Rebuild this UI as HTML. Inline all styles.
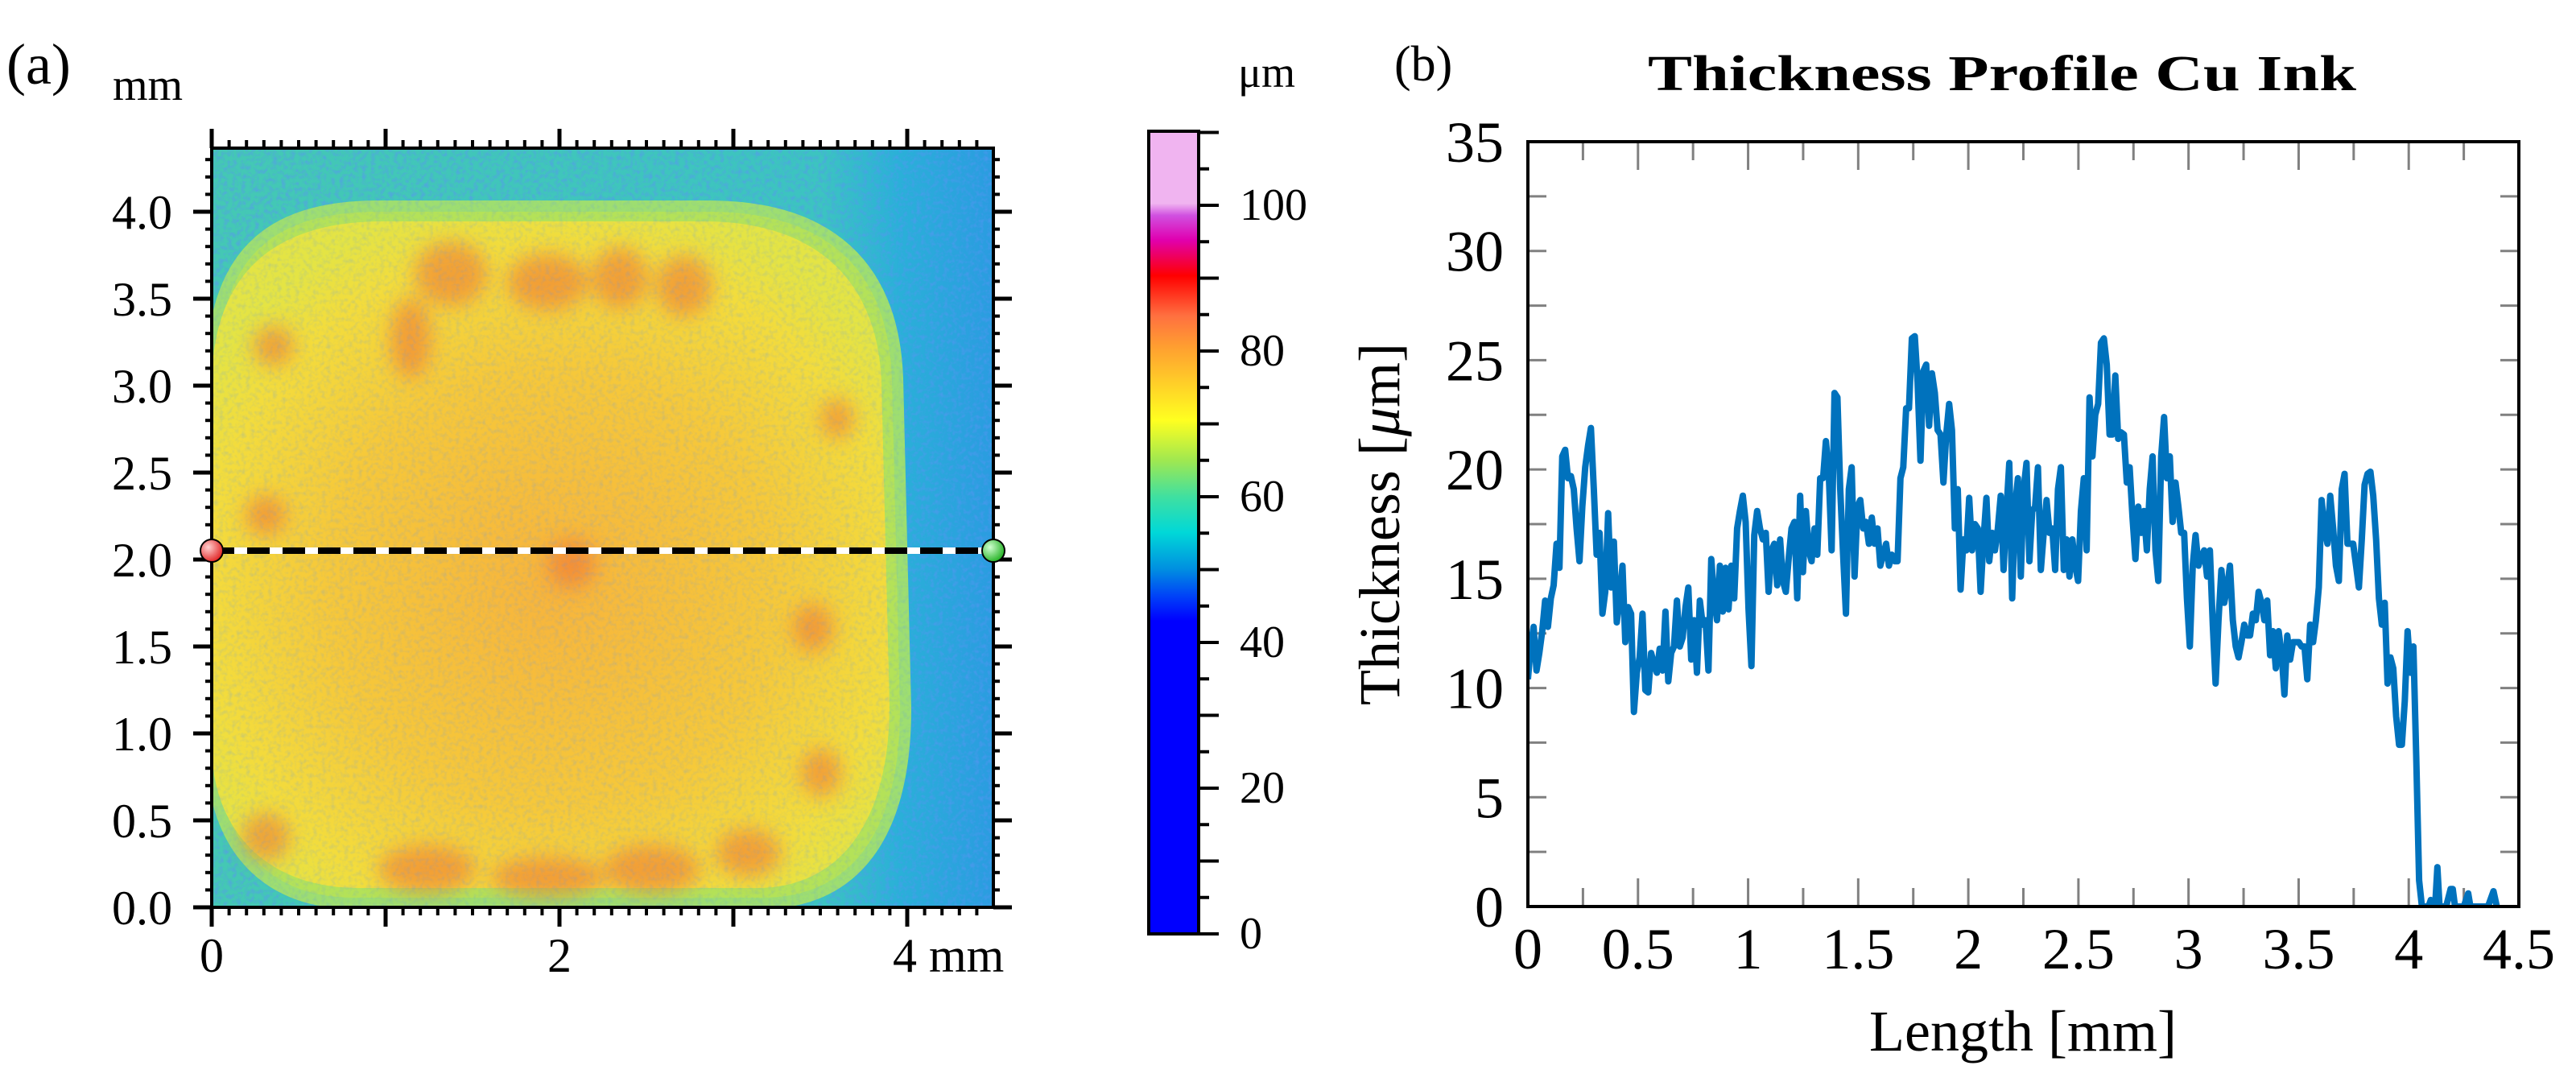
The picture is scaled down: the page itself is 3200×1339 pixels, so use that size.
<!DOCTYPE html>
<html><head><meta charset="utf-8"><style>
html,body{margin:0;padding:0;background:#fff;}
svg{display:block;}
text{font-family:"Liberation Serif",serif;fill:#000;}
</style></head><body>
<svg id="fig" width="3200" height="1339" viewBox="0 0 3200 1339">
<defs>
  <clipPath id="clipA"><rect x="263" y="184" width="971" height="943"/></clipPath>
  <clipPath id="clipB"><rect x="1898" y="176" width="1231" height="950"/></clipPath>
  <radialGradient id="inner" cx="0.5" cy="0.55" r="0.6">
    <stop offset="0" stop-color="#f7b43c"/>
    <stop offset="0.55" stop-color="#f6c83a"/>
    <stop offset="0.85" stop-color="#f3dc3c"/>
    <stop offset="1" stop-color="#e4e444"/>
  </radialGradient>
  <linearGradient id="bgGrad" x1="0" y1="0" x2="1" y2="0">
    <stop offset="0" stop-color="#44c8b4"/>
    <stop offset="0.78" stop-color="#3cc4c0"/>
    <stop offset="0.88" stop-color="#2ab0d8"/>
    <stop offset="1" stop-color="#2a9ce0"/>
  </linearGradient>
  <linearGradient id="cbGrad" x1="0" y1="1" x2="0" y2="0">
    <stop offset="0" stop-color="#0000ff"/>
    <stop offset="0.39" stop-color="#0000ff"/>
    <stop offset="0.42" stop-color="#0040f8"/>
    <stop offset="0.455" stop-color="#0090e0"/>
    <stop offset="0.50" stop-color="#00d8d8"/>
    <stop offset="0.545" stop-color="#40e0a0"/>
    <stop offset="0.59" stop-color="#a0e850"/>
    <stop offset="0.64" stop-color="#ffff20"/>
    <stop offset="0.73" stop-color="#ffa030"/>
    <stop offset="0.77" stop-color="#ff7040"/>
    <stop offset="0.82" stop-color="#ff0000"/>
    <stop offset="0.865" stop-color="#e000b0"/>
    <stop offset="0.895" stop-color="#d050e0"/>
    <stop offset="0.91" stop-color="#f0b4f0"/>
    <stop offset="1" stop-color="#f0b4f0"/>
  </linearGradient>
  <radialGradient id="redBall" cx="0.35" cy="0.35" r="0.7">
    <stop offset="0" stop-color="#ffd0d0"/><stop offset="1" stop-color="#e02020"/>
  </radialGradient>
  <radialGradient id="greenBall" cx="0.35" cy="0.35" r="0.7">
    <stop offset="0" stop-color="#d0ffd0"/><stop offset="1" stop-color="#20b020"/>
  </radialGradient>
  <filter id="speckle" x="0" y="0" width="100%" height="100%">
    <feTurbulence type="fractalNoise" baseFrequency="0.18" numOctaves="2" seed="4"/>
    <feColorMatrix type="matrix" values="0 0 0 0 0.1  0 0 0 0 0.3  0 0 0 0 0.9  0 0 0 -2.2 1.25"/>
  </filter>
  <filter id="blur8"><feGaussianBlur stdDeviation="12"/></filter>
</defs>

<!-- Panel a -->
<g id="panelA">
  <text x="8" y="104" font-size="72">(a)</text>
  <text x="140" y="124" font-size="56">mm</text>
  <g clip-path="url(#clipA)">
    <rect x="263" y="184" width="971" height="943" fill="url(#bgGrad)"/>
    <rect x="263" y="184" width="971" height="943" filter="url(#speckle)" opacity="0.5"/>
    <path d="M263,470 C263,320 330,256 470,256 L880,256 C1030,256 1110,330 1115,470 L1125,880 C1125,1040 1060,1120 950,1122 L440,1122 C320,1122 263,1040 263,930 Z" fill="#b4e258" stroke="#9ede70" stroke-width="14"/>
    <path d="M263,480 C263,340 340,275 475,275 L875,275 C1010,275 1090,345 1095,475 L1105,875 C1105,1020 1045,1100 945,1103 L445,1103 C330,1103 263,1030 263,925 Z" fill="url(#inner)"/>
    <g filter="url(#blur8)" fill="#f06a30" opacity="0.5">
      <ellipse cx="560" cy="340" rx="45" ry="40"/><ellipse cx="680" cy="350" rx="50" ry="35"/>
      <ellipse cx="770" cy="345" rx="35" ry="38"/><ellipse cx="850" cy="355" rx="35" ry="38"/>
      <ellipse cx="510" cy="420" rx="25" ry="50"/><ellipse cx="340" cy="430" rx="25" ry="25"/>
      <ellipse cx="530" cy="1080" rx="60" ry="30"/><ellipse cx="680" cy="1090" rx="70" ry="25"/>
      <ellipse cx="810" cy="1080" rx="60" ry="30"/><ellipse cx="930" cy="1060" rx="40" ry="30"/>
      <ellipse cx="330" cy="1040" rx="30" ry="30"/><ellipse cx="1010" cy="780" rx="25" ry="30"/>
      <ellipse cx="330" cy="640" rx="25" ry="25"/><ellipse cx="710" cy="700" rx="30" ry="30"/>
      <ellipse cx="1040" cy="520" rx="20" ry="25"/><ellipse cx="1020" cy="960" rx="25" ry="30"/>
    </g>
    <rect x="263" y="184" width="971" height="943" filter="url(#speckle)" opacity="0.22"/>
  </g>
  <g id="axA"></g>
  <g>
    <line x1="263" y1="684" x2="1234" y2="684" stroke="#fff" stroke-width="8"/>
    <line x1="263" y1="684" x2="1234" y2="684" stroke="#000" stroke-width="8" stroke-dasharray="28,16"/>
    <circle cx="263" cy="684" r="14" fill="url(#redBall)" stroke="#000" stroke-width="2"/>
    <circle cx="1234" cy="684" r="14" fill="url(#greenBall)" stroke="#000" stroke-width="2"/>
  </g>
</g>

<!-- Colorbar -->
<g id="cbar">
  <text x="1538" y="108" font-size="54">μm</text>
  <rect x="1427" y="163" width="62" height="997" fill="url(#cbGrad)" stroke="#000" stroke-width="4"/>
  <g id="cbTicks"></g>
</g>

<!-- Panel b -->
<g id="panelB">
  <text x="1732" y="100" font-size="62">(b)</text>
  <text x="2487" y="112" font-size="62" font-weight="bold" text-anchor="middle" textLength="880" lengthAdjust="spacingAndGlyphs">Thickness Profile Cu Ink</text>
  <g id="axB"></g>
  <text x="2513" y="1305" font-size="72" text-anchor="middle">Length [mm]</text>
  <text transform="translate(1738,651) rotate(-90)" font-size="72" text-anchor="middle">Thickness [<tspan font-style="italic">μ</tspan>m]</text>
</g>
</svg>
<script>
// ---- Panel b data ----
const profileValues = [10.4,11.9,12.8,10.8,11.6,12.6,14.0,12.8,14.1,14.7,16.6,15.5,20.6,20.9,19.6,19.7,19.1,17.3,15.8,18.3,20.1,21.1,21.9,19.1,16.1,17.1,13.4,14.4,18.0,14.6,16.7,13.0,14.1,15.6,12.1,13.7,13.4,8.9,10.7,11.4,13.4,9.9,9.8,11.6,11.1,10.7,11.8,10.8,13.5,10.3,11.6,11.9,14.0,11.9,12.3,13.7,14.6,11.3,13.1,10.7,14.0,12.9,13.1,10.8,15.9,14.1,13.1,15.6,13.5,15.5,13.6,15.6,14.1,17.3,18.1,18.8,17.6,13.6,11.0,17.0,18.1,17.3,16.8,17.1,14.4,16.3,16.6,14.7,16.8,14.9,14.4,15.9,17.3,17.6,14.1,18.8,15.3,18.1,16.3,15.8,17.3,16.1,19.6,19.6,21.3,19.8,16.3,23.5,23.3,19.1,16.1,13.4,19.1,20.1,15.1,18.3,18.6,17.3,17.6,16.6,17.8,16.6,17.3,15.6,16.1,16.6,15.6,16.1,15.8,15.8,19.6,20.1,22.8,22.8,26.0,26.1,24.0,20.4,24.5,24.8,22.0,24.4,23.5,21.8,21.6,19.4,21.6,23.0,21.8,17.3,19.1,14.5,16.8,16.3,18.7,16.3,17.5,17.3,14.4,16.8,18.7,15.8,17.1,16.3,17.3,18.8,15.4,18.1,20.3,14.1,18.3,19.6,15.1,19.1,20.3,15.8,18.1,18.3,20.1,15.4,17.1,18.6,17.1,17.3,15.4,19.1,20.1,15.4,16.8,15.1,16.8,15.6,14.9,18.1,19.6,16.3,23.3,20.6,22.5,23.0,25.8,26.0,24.8,21.6,21.6,24.3,21.4,21.7,21.6,19.4,20.1,17.8,15.9,18.3,17.1,18.1,16.3,19.1,20.6,16.3,14.9,20.6,22.4,19.6,20.6,17.6,19.4,18.3,17.1,17.1,14.1,11.9,15.6,17.0,15.6,16.0,16.3,15.1,16.3,12.9,10.2,13.1,15.4,13.9,14.6,15.6,13.1,11.9,11.4,12.1,12.9,12.4,12.4,13.4,13.1,14.4,13.9,13.1,14.0,11.5,12.6,10.9,12.6,11.6,9.7,12.4,11.3,12.1,12.1,12.1,11.9,11.9,10.4,12.9,12.1,13.1,14.6,18.6,17.3,16.6,18.8,17.3,15.6,14.9,19.1,19.8,16.6,16.6,16.6,15.6,14.6,16.8,19.3,19.8,19.9,18.8,16.8,14.1,12.9,13.9,10.2,11.4,10.9,8.7,7.4,7.4,9.4,12.6,10.7,11.9,6.9,1.2,0];
const profileStart = 0;
const profileEnd = 4.06;
const tailX = [4.07,4.09,4.10,4.11,4.12,4.13,4.14,4.15,4.17,4.19,4.20,4.21,4.25,4.27,4.28,4.36,4.385,4.40];
const tailY = [0,0,0.3,0,0,1.8,0,0,0,0.8,0.8,0,0,0.6,0,0,0.7,0];
const xTicksB = [0,0.5,1,1.5,2,2.5,3,3.5,4,4.5];
const xTickLabelsB = ["0","0.5","1","1.5","2","2.5","3","3.5","4","4.5"];
const yTicksB = [0,5,10,15,20,25,30,35];
const yTickLabelsB = ["0","5","10","15","20","25","30","35"];
// ---- Panel a / colorbar ticks ----
const xTicksA = [0,2,4];
const xTickLabelsA = ["0","2","4 mm"];
const yTicksA = [0,0.5,1,1.5,2,2.5,3,3.5,4];
const yTickLabelsA = ["0.0","0.5","1.0","1.5","2.0","2.5","3.0","3.5","4.0"];
const cbTicks = [0,20,40,60,80,100];
const cbTickLabels = ["0","20","40","60","80","100"];

const NS="http://www.w3.org/2000/svg";
function mk(tag,attrs,parent){const e=document.createElementNS(NS,tag);for(const k in attrs)e.setAttribute(k,attrs[k]);parent.appendChild(e);return e;}

const bx0=1898,bx1=3129,by0=1126,by1=176;
const xB=v=>bx0+(v/4.5)*(bx1-bx0);
const yB=v=>by0-(v/35)*(by0-by1);
const axB=document.getElementById('axB');
for(let i=0;i<=18;i++){
  const v=i*0.25, major=(i%2===0), L=major?35:23;
  const t1=mk('line',{x1:xB(v),x2:xB(v),y1:by0,y2:by0-L,stroke:'#808080','stroke-width':3},axB);
  
  
  const t2=mk('line',{x1:xB(v),x2:xB(v),y1:by1,y2:by1+L,stroke:'#808080','stroke-width':3},axB);
  
  
}
for(let i=0;i<=14;i++){
  const v=i*2.5;
  const t1=mk('line',{x1:bx0,x2:bx0+23,y1:yB(v),y2:yB(v),stroke:'#808080','stroke-width':3},axB);
  
  
  const t2=mk('line',{x1:bx1,x2:bx1-23,y1:yB(v),y2:yB(v),stroke:'#808080','stroke-width':3},axB);
  
  
}
xTicksB.forEach((v,i)=>{
  const t=mk('text',{x:xB(v),y:1203,'font-size':72,'text-anchor':'middle'},axB);
  t.textContent=xTickLabelsB[i];
  
  
});
yTicksB.forEach((v,i)=>{
  const t=mk('text',{x:1868,y:yB(v)+25,'font-size':72,'text-anchor':'end'},axB);
  t.textContent=yTickLabelsB[i];
  
  
});
const lg=mk('g',{'clip-path':'url(#clipB)'},axB);


let d='';
const n=profileValues.length;
profileValues.forEach((v,i)=>{
  const x=profileStart+(profileEnd-profileStart)*i/(n-1);
  d+=(i?'L':'M')+xB(x).toFixed(1)+','+yB(v).toFixed(1);
});
tailX.forEach((x,i)=>{d+='L'+xB(x).toFixed(1)+','+yB(tailY[i]).toFixed(1);});
const pl=mk('path',{d:d,fill:'none',stroke:'#0072bd','stroke-width':8,'stroke-linejoin':'round'},lg);


const frB=mk('rect',{x:bx0,y:by1,width:bx1-bx0,height:by0-by1,fill:'none',stroke:'#000','stroke-width':4},axB);



const ax0=263,ax1=1234,ay0=1127,ay1=184;
const xA=v=>ax0+v*216;
const yA=v=>ay0-v*216;
const axA=document.getElementById('axA');
const frA=mk('rect',{x:ax0,y:ay1,width:ax1-ax0,height:ay0-ay1,fill:'none',stroke:'#000','stroke-width':4},axA);


for(let i=0;i<=44;i++){
  const v=i*0.1, major=(i%10===0), L=major?24:10, x=xA(v);
  const a=mk('line',{x1:x,x2:x,y1:ay0,y2:ay0+L,stroke:'#000','stroke-width':major?5:4},axA);
  
  
  const b=mk('line',{x1:x,x2:x,y1:ay1,y2:ay1-L,stroke:'#000','stroke-width':major?5:4},axA);
  
  
}
for(let i=0;i<=43;i++){
  const v=i*0.1, major=(i%5===0), L=major?23:8, y=yA(v);
  const a=mk('line',{x1:ax0,x2:ax0-L,y1:y,y2:y,stroke:'#000','stroke-width':major?5:4},axA);
  
  
  const b=mk('line',{x1:ax1,x2:ax1+L,y1:y,y2:y,stroke:'#000','stroke-width':major?5:4},axA);
  
  
}
xTicksA.forEach((v,i)=>{
  const lab=xTickLabelsA[i];
  const t=mk('text',{x:i===2?xA(v)-18:xA(v),y:1207,'font-size':60,'text-anchor':i===2?'start':'middle'},axA);
  t.textContent=lab;
  
  
});
yTicksA.forEach((v,i)=>{
  const t=mk('text',{x:214,y:yA(v)+21,'font-size':60,'text-anchor':'end'},axA);
  t.textContent=yTickLabelsA[i];
  
  
});

const cy0=1160,perTen=90.5;
const yC=v=>cy0-v/10*perTen;
const cbg=document.getElementById('cbTicks');
for(let i=0;i<=22;i++){
  const v=i*5, major=(i%2===0), L=major?25:13;
  const t=mk('line',{x1:1489,x2:1489+L,y1:yC(v),y2:yC(v),stroke:'#000','stroke-width':4},cbg);
  
  
}
cbTicks.forEach((v,i)=>{
  const t=mk('text',{x:1540,y:yC(v)+18,'font-size':56},cbg);
  t.textContent=cbTickLabels[i];
  
  
});
</script>
</body></html>
